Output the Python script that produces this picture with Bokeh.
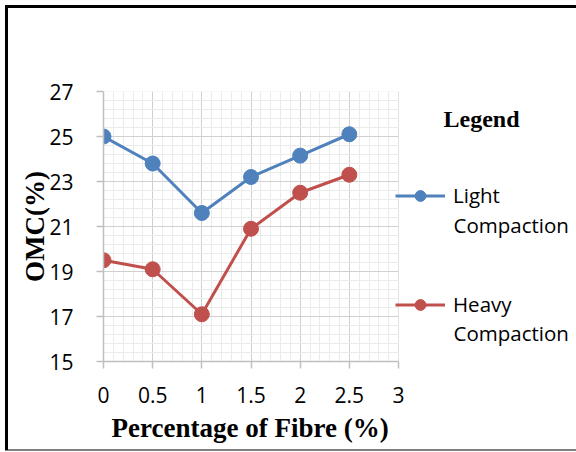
from bokeh.plotting import figure
from bokeh.models import (Range1d, SingleIntervalTicker, FixedTicker, Legend, LegendItem, Label,
                          BoxAnnotation, Title)
from bokeh.embed import file_html
from bokeh.resources import INLINE

# ---- data ----
fibre = [0, 0.5, 1, 1.5, 2, 2.5]
light = [25.0, 23.8, 21.6, 23.2, 24.15, 25.1]
heavy = [19.5, 19.1, 17.1, 20.9, 22.5, 23.3]
x_ticks = [0, 0.5, 1, 1.5, 2, 2.5, 3]
x_tick_labels = ["0", "0.5", "1", "1.5", "2", "2.5", "3"]
y_ticks = [15, 17, 19, 21, 23, 25, 27]
y_minor_ticks = [15 + 0.4 * i for i in range(31)]
series_names = ["Light", "Heavy"]
series_sub = "Compaction"
x_title = "Percentage of Fibre (%)"
y_title = "OMC(%)"
legend_title = "Legend"

BLUE = "#4F81BD"
RED = "#C0504D"
TICK_FONT = "Open Sans"
TITLE_FONT = "Liberation Serif"

W, H = 576, 452
LEFT, AREA_RIGHT, TOP, BOTTOM = 103, 398, 91, 361
x0, x1 = x_ticks[0], x_ticks[-1]
y0, y1 = y_ticks[0], y_ticks[-1]
# frame spans to the right edge so the legend (inside the frame) is not clipped
x_end = x0 + (x1 - x0) * (W - LEFT) / (AREA_RIGHT - LEFT)

p = figure(width=W, height=H, output_backend="svg", toolbar_location=None,
           x_range=Range1d(x0, x_end), y_range=Range1d(y0, y1),
           min_border_left=LEFT, min_border_right=0, min_border_top=TOP, min_border_bottom=H - BOTTOM)
p.background_fill_color = "white"
p.border_fill_color = None
p.outline_line_color = None
p.styles = {
    "background-color": "white",
    "background-image": "linear-gradient(black, black), linear-gradient(black, black), "
                        "linear-gradient(#808080, #808080)",
    "background-size": "3px 445px, 571px 3px, 571px 2px",
    "background-position": "5px 5px, 5px 5px, 5px 449px",
    "background-repeat": "no-repeat",
}

xt = SingleIntervalTicker(interval=0.5, num_minor_ticks=5)
yt = FixedTicker(ticks=y_ticks, minor_ticks=y_minor_ticks)
p.xaxis.ticker = xt
p.yaxis.ticker = yt
p.xgrid.ticker = xt
p.ygrid.ticker = yt
p.xaxis.bounds = (x0, x1)
p.xgrid.bounds = (x0, x1)
p.xaxis.major_label_overrides = {t: l for t, l in zip(x_ticks, x_tick_labels)}

for g in (p.xgrid, p.ygrid):
    g.grid_line_color = "#D0D0D0"
    g.grid_line_width = 1
    g.minor_grid_line_color = "#EBEBEB"
    g.minor_grid_line_width = 1
    g.level = "image"

# blank out the grid to the right of the plot area, then draw the plot-area border
p.add_layout(BoxAnnotation(left=x1, fill_color="white", fill_alpha=1, line_color=None, level="underlay"))
p.add_layout(BoxAnnotation(left=x0, right=x1, bottom=y0, top=y1, fill_color=None, fill_alpha=0,
                           line_color="#D0D0D0", line_width=1, level="underlay"))

for ax in (p.xaxis, p.yaxis):
    ax.axis_line_color = "#BFBFBF"
    ax.axis_line_width = 1.5
    ax.major_tick_line_color = "#BFBFBF"
    ax.major_tick_line_width = 1.5
    ax.major_tick_out = 7
    ax.major_tick_in = 0
    ax.minor_tick_line_color = None
    ax.major_label_text_font = TICK_FONT
    ax.major_label_text_font_size = "21px"
    ax.major_label_text_color = "black"
    ax.axis_label_text_font = TITLE_FONT
    ax.axis_label_text_font_style = "bold"
    ax.axis_label_text_font_size = "27px"
    ax.axis_label_text_color = "black"

p.yaxis.axis_label = y_title
p.xaxis.major_label_standoff = 18
p.yaxis.major_label_standoff = 23
p.yaxis.axis_label_standoff = -4

# x-axis title centred under the plot area (not under the wider frame)
p.add_layout(Title(text=x_title, align="left", offset=8, vertical_align="top", standoff=15,
                   text_font=TITLE_FONT, text_font_style="bold", text_font_size="27px",
                   text_color="black"), "below")

l1 = p.line(fibre, light, line_color=BLUE, line_width=3)
s1 = p.scatter(fibre, light, size=15, fill_color=BLUE, line_color=BLUE)
l2 = p.line(fibre, heavy, line_color=RED, line_width=3)
s2 = p.scatter(fibre, heavy, size=15, fill_color=RED, line_color=RED)

legend = Legend(items=[LegendItem(label=series_names[0], renderers=[l1, s1]),
                       LegendItem(label=series_names[1], renderers=[l2, s2])],
                location=(292, 43), orientation="vertical",
                glyph_width=50, glyph_height=27, label_height=27, label_standoff=8,
                spacing=81, padding=0, margin=0,
                border_line_color=None, background_fill_alpha=0,
                label_text_font=TICK_FONT, label_text_font_size="20.5px",
                label_text_color="black")
p.add_layout(legend)

for cy in (224, 332):
    p.add_layout(Label(x=453, y=cy, x_units="canvas", y_units="canvas", text=series_sub,
                       text_font=TICK_FONT, text_font_size="20.5px", text_color="black",
                       text_align="left", text_baseline="middle"))

p.add_layout(Label(x=481, y=118, x_units="canvas", y_units="canvas", text=legend_title,
                   text_font=TITLE_FONT, text_font_style="bold", text_font_size="24px",
                   text_color="black", text_align="center", text_baseline="middle"))

open("out.html", "w").write(file_html(p, INLINE))
